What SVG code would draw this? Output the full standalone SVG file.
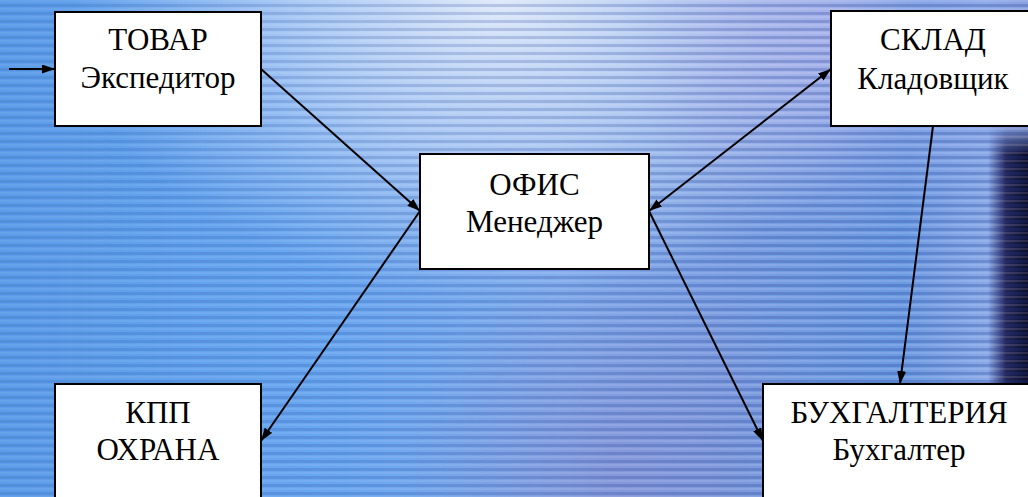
<svg xmlns="http://www.w3.org/2000/svg" width="1028" height="497" viewBox="0 0 1028 497">
<defs>
<style>
.box{fill:#fff;stroke:#000;stroke-width:2}
.t{font-family:"Liberation Serif","Times New Roman",serif;font-size:31px;fill:#000;text-anchor:middle}
.c{stroke:#000;stroke-width:2;fill:none}
</style>
<linearGradient id="bgH" x1="0" y1="0" x2="1" y2="0">
<stop offset="0" stop-color="#5c9ce8"/>
<stop offset="0.3" stop-color="#68a6f0"/>
<stop offset="0.55" stop-color="#7fabec"/>
<stop offset="0.7" stop-color="#7a9ee2"/>
<stop offset="0.88" stop-color="#6c9ae2"/>
<stop offset="0.96" stop-color="#8aa8e8"/>
<stop offset="1" stop-color="#8aa0e0"/>
</linearGradient>
<radialGradient id="hl" cx="500" cy="0" r="330" gradientUnits="userSpaceOnUse" gradientTransform="translate(500 0) scale(1.3 0.9) translate(-500 0)">
<stop offset="0" stop-color="#e4ecfb" stop-opacity="0.95"/>
<stop offset="0.5" stop-color="#d0def8" stop-opacity="0.6"/>
<stop offset="1" stop-color="#c0d4f6" stop-opacity="0"/>
</radialGradient>
<radialGradient id="pur" cx="820" cy="40" r="200" gradientUnits="userSpaceOnUse">
<stop offset="0" stop-color="#b4b4ec" stop-opacity="0.7"/>
<stop offset="1" stop-color="#b4b4ec" stop-opacity="0"/>
</radialGradient>
<radialGradient id="pur2" cx="620" cy="480" r="220" gradientUnits="userSpaceOnUse">
<stop offset="0" stop-color="#8a8cd0" stop-opacity="0.6"/>
<stop offset="1" stop-color="#8a8cd0" stop-opacity="0"/>
</radialGradient>
<linearGradient id="dark" x1="988" y1="0" x2="1028" y2="0" gradientUnits="userSpaceOnUse">
<stop offset="0" stop-color="#202060" stop-opacity="0"/>
<stop offset="0.45" stop-color="#181848" stop-opacity="0.9"/>
<stop offset="1" stop-color="#0c0c2c" stop-opacity="1"/>
</linearGradient>
<linearGradient id="darkV" x1="0" y1="125" x2="0" y2="415" gradientUnits="userSpaceOnUse">
<stop offset="0" stop-color="#fff" stop-opacity="0"/>
<stop offset="0.1" stop-color="#fff" stop-opacity="1"/>
<stop offset="0.9" stop-color="#fff" stop-opacity="1"/>
<stop offset="1" stop-color="#fff" stop-opacity="0"/>
</linearGradient>
<mask id="mV"><rect x="960" y="120" width="68" height="300" fill="url(#darkV)"/></mask>
<linearGradient id="stripeFade" x1="0" y1="0" x2="1028" y2="0" gradientUnits="userSpaceOnUse">
<stop offset="0" stop-color="#fff" stop-opacity="0.55"/>
<stop offset="0.5" stop-color="#fff" stop-opacity="0.8"/>
<stop offset="0.75" stop-color="#fff" stop-opacity="1"/>
<stop offset="1" stop-color="#fff" stop-opacity="1"/>
</linearGradient>
<mask id="mS"><rect width="1028" height="497" fill="url(#stripeFade)"/></mask>
<pattern id="stripes" width="8" height="8" patternUnits="userSpaceOnUse">
<rect width="8" height="3" y="4" fill="#1c3c8c" fill-opacity="0.25"/>
<rect width="8" height="2" y="0" fill="#ffffff" fill-opacity="0.12"/>
</pattern>
<marker id="ah" markerWidth="13" markerHeight="9" refX="13" refY="4.5" orient="auto-start-reverse" markerUnits="userSpaceOnUse">
<path d="M0,0 L13,4.5 L0,9 z" fill="#000"/>
</marker>
</defs>
<g id="background">
<rect width="1028" height="497" fill="url(#bgH)"/>
<rect width="1028" height="497" fill="url(#pur2)"/>
<rect width="1028" height="497" fill="url(#hl)"/>
<rect width="1028" height="497" fill="url(#pur)"/>
<rect x="960" y="120" width="68" height="300" fill="url(#dark)" mask="url(#mV)"/>
<rect width="1028" height="497" fill="url(#stripes)" mask="url(#mS)"/>
</g>
<g id="connectors">
<line class="c" x1="9" y1="69" x2="55" y2="69" marker-end="url(#ah)"/>
<line class="c" x1="261" y1="69" x2="420" y2="211" marker-end="url(#ah)"/>
<line class="c" x1="649" y1="211" x2="831" y2="69" marker-start="url(#ah)" marker-end="url(#ah)"/>
<line class="c" x1="420" y1="211" x2="261" y2="441" marker-end="url(#ah)"/>
<line class="c" x1="649" y1="211" x2="763" y2="441" marker-end="url(#ah)"/>
<line class="c" x1="933" y1="126" x2="900" y2="384" marker-end="url(#ah)"/>
</g>
<g id="tovar">
<rect class="box" x="55" y="12" width="206" height="114"/>
<text class="t" x="158" y="50">ТОВАР</text>
<text class="t" x="158" y="88">Экспедитор</text>
</g>
<g id="ofis">
<rect class="box" x="420" y="154" width="229" height="115"/>
<text class="t" x="534.5" y="195">ОФИС</text>
<text class="t" x="534.5" y="232">Менеджер</text>
</g>
<g id="sklad">
<rect class="box" x="831" y="11" width="205" height="115"/>
<text class="t" x="933" y="50">СКЛАД</text>
<text class="t" x="933" y="89">Кладовщик</text>
</g>
<g id="kpp">
<rect class="box" x="55" y="384" width="206" height="120"/>
<text class="t" x="158" y="423">КПП</text>
<text class="t" x="158" y="460">ОХРАНА</text>
</g>
<g id="buh">
<rect class="box" x="763" y="384" width="273" height="120"/>
<text class="t" x="899" y="423">БУХГАЛТЕРИЯ</text>
<text class="t" x="899" y="460">Бухгалтер</text>
</g>
</svg>
